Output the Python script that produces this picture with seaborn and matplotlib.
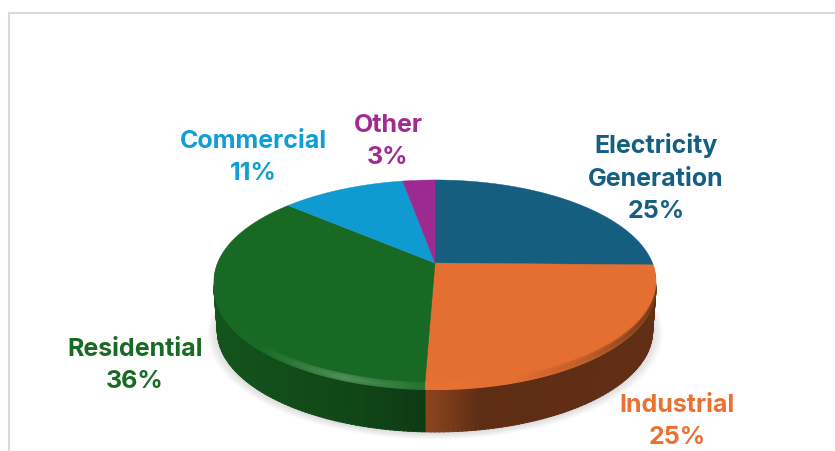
import numpy as np
import matplotlib
matplotlib.use("Agg")
import matplotlib.pyplot as plt
from matplotlib.lines import Line2D
import seaborn as sns

# ---- Data ----
categories = ["Electricity\nGeneration", "Industrial", "Residential", "Commercial", "Other"]
shares = [25.3, 25.3, 35.8, 10.8, 2.8]
pct_labels = ["25%", "25%", "36%", "11%", "3%"]
slice_colors = ["#156082", "#E97132", "#196B24", "#0F9ED5", "#A02B93"]

# ---- Projection of the flat pie, everything in picture pixels ----
CX, CY = 435, 263
RX = 217.5
K = 0.178
A = -51
BEVEL = 8
DEPTH = 42


def project(u, v, drop=0.0, shrink=1.0):
    w = 1 + K * v
    return CX + shrink * RX * u / w, (CY + A * v) / w + drop


def outline(theta1, theta2, apex=True, n=120):
    t = np.radians(np.linspace(theta1, theta2, n))
    u, v = np.cos(t), np.sin(t)
    if apex:
        u, v = np.r_[0, u, 0], np.r_[0, v, 0]
    return u, v


def shade(color, f):
    r, g, b = matplotlib.colors.to_rgb(color)
    if f > 1:
        return (r + (1 - r) * (f - 1), g + (1 - g) * (f - 1), b + (1 - b) * (f - 1))
    return (r * f, g * f, b * f)


def side_level(i, u):
    # brightness of the side wall, dark towards the front
    if i == 1:
        return np.interp(u, [-0.06, 0.02, 0.18, 1], [0.62, 0.56, 0.40, 0.42])
    return np.interp(u, [-1, -0.6, -0.3, -0.04], [0.80, 0.72, 0.66, 0.55])


def bevel_level(i, u):
    # rim between the top face and the wall, highlight on the front left
    if i == 1:
        return np.interp(u, [-0.05, 0.3, 0.6, 0.85, 1], [1.0, 0.98, 0.85, 0.65, 0.55])
    return np.interp(u, [-1, -0.7, -0.35, -0.05], [0.97, 1.0, 1.2, 1.05])


sns.set_theme(style="white")
plt.rcParams["font.family"] = ["Inter", "DejaVu Sans"]

fig = plt.figure(figsize=(8.35, 4.51), dpi=100)
ax = fig.add_axes([0, 0, 1, 1])

wedges, _ = ax.pie(shares, colors=slice_colors, startangle=90, counterclock=False)
ax.set_aspect("auto")
ax.set_xlim(0, 835)
ax.set_ylim(451, 0)
ax.set_frame_on(False)

# soft shadow below the disc
for grow in np.linspace(1.045, 1.0, 12):
    u, v = outline(0, 360, apex=False, n=240)
    x, y = project(u * grow, v * grow, drop=DEPTH + BEVEL + 1, shrink=0.985)
    ax.fill(x, y, color="#808080", alpha=0.025, lw=0, zorder=1)

# side wall, cut in narrow strips so the shade can follow the angle
for i, w in enumerate(wedges):
    w.set_visible(False)
    steps = np.arange(w.theta1, w.theta2 + 1.0, 1.0)
    for a0, a1 in zip(steps[:-1], steps[1:]):
        a_mid = np.radians((a0 + a1) / 2)
        if np.sin(a_mid) > 0.05:
            continue
        c = shade(slice_colors[i], side_level(i, np.cos(a_mid)))
        u, v = outline(a0, min(a1 + 0.3, w.theta2), apex=False, n=4)
        x1, y1 = project(u, v, drop=BEVEL)
        x2, y2 = project(u, v, drop=DEPTH + BEVEL, shrink=0.985)
        ax.fill(np.r_[x1, x2[::-1]], np.r_[y1, y2[::-1]], fc=c, ec=c, lw=0.6, zorder=2)

# bevel rim
for drop in np.linspace(BEVEL, 1, 8):
    for i, w in enumerate(wedges):
        steps = np.arange(w.theta1, w.theta2 + 1.0, 1.0)
        for a0, a1 in zip(steps[:-1], steps[1:]):
            a_mid = np.radians((a0 + a1) / 2)
            if np.sin(a_mid) > 0.3:
                continue
            u, v = outline(a0, min(a1 + 0.3, w.theta2), apex=True, n=4)
            x, y = project(u, v, drop=drop)
            edge = 1 - abs(drop - BEVEL * 0.6) / BEVEL
            f = 1 + (bevel_level(i, np.cos(a_mid)) - 1) * (0.4 + 0.9 * edge)
            ax.fill(x, y, color=shade(slice_colors[i], f), lw=0, zorder=3)

# top face
for i, w in enumerate(wedges):
    u, v = outline(w.theta1, w.theta2)
    x, y = project(u, v)
    c = shade(slice_colors[i], 0.98)
    ax.fill(x, y, fc=c, ec=c, lw=0.3, zorder=4)

# ---- Labels ----
label_pos = [(656, 178), (677, 421), (135, 365), (253, 158), (388, 142)]
for name, pct, color, (lx, ly) in zip(categories, pct_labels, slice_colors, label_pos):
    ax.text(lx, ly, f"{name}\n{pct}", color=color, fontsize=18, fontweight="bold",
            ha="center", va="center", linespacing=1.5, zorder=6)

# chart border, only the top and left edges are in the crop
ax.add_line(Line2D([9, 9, 835], [451, 13, 13], color="#d9d9d9", lw=1.5, zorder=0))

fig.savefig("out.png", dpi=100)
